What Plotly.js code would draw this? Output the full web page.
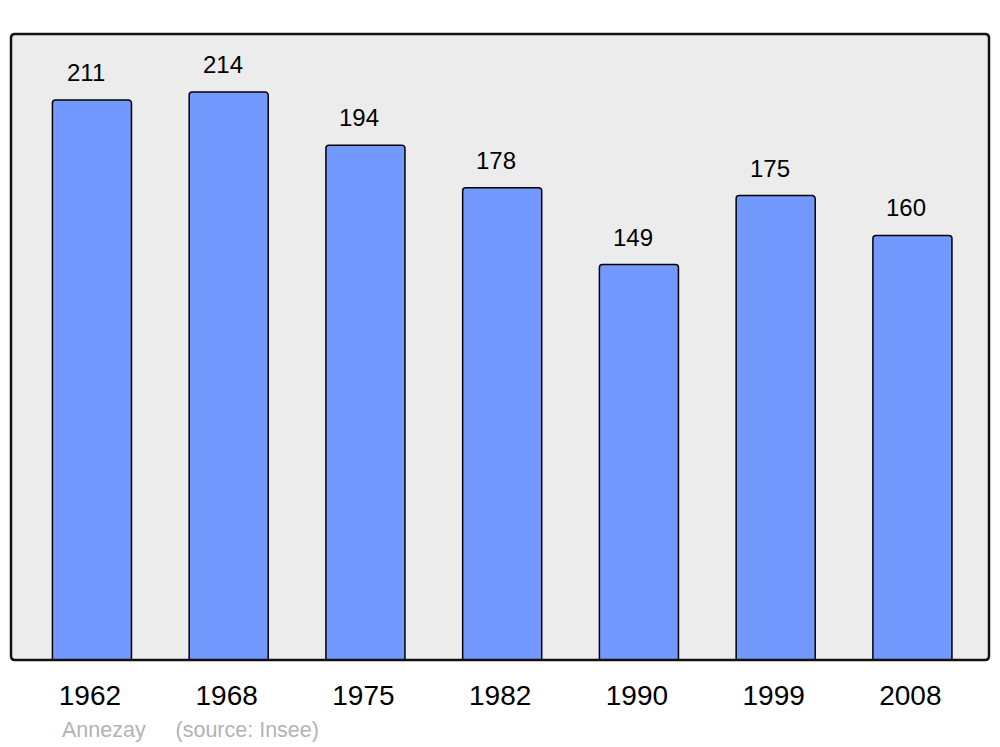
<!DOCTYPE html>
<html>
<head>
<meta charset="utf-8">
<script src="https://cdn.plot.ly/plotly-3.0.1.min.js"></script>
<style>html,body{margin:0;padding:0;background:#fff;}#chart{width:1000px;height:747px;}</style>
</head>
<body>
<div id="chart"></div>
<script>
const years = ["1962", "1968", "1975", "1982", "1990", "1999", "2008"];
const population = [211, 214, 194, 178, 149, 175, 160];
const footerText = "Annezay     (source: Insee)";

const rx = 4 / 978, ry = 4 / 626;
const framePath = `M ${rx} 0 L ${1 - rx} 0 Q 1 0 1 ${ry} L 1 ${1 - ry} Q 1 1 ${1 - rx} 1 L ${rx} 1 Q 0 1 0 ${1 - ry} L 0 ${ry} Q 0 0 ${rx} 0 Z`;

const annotations = years.map((y, i) => ({
  x: i, y: population[i], xref: 'x', yref: 'y',
  text: String(population[i]), showarrow: false,
  yanchor: 'bottom', yshift: 12, xshift: -6,
  font: {family: 'Liberation Sans, Arial, sans-serif', size: 24, color: '#000'}
}));
annotations.push({
  xref: 'paper', yref: 'paper', x: 49 / 978, y: -(730 - 660) / 626,
  xanchor: 'left', yanchor: 'middle', text: footerText.replace(/ /g, '&nbsp;'), showarrow: false,
  font: {family: 'Liberation Sans, Arial, sans-serif', size: 21.5, color: '#b3b3b3'}
});

const trace = {
  type: 'bar',
  x: years.map((_, i) => i),
  y: population,
  width: 0.578,
  marker: {color: '#7399ff', line: {color: '#000', width: 1.5}, cornerradius: 3},
  hoverinfo: 'none'
};

const layout = {
  width: 1000, height: 747,
  margin: {l: 11, r: 11, t: 34, b: 87, pad: 0},
  paper_bgcolor: '#ffffff',
  plot_bgcolor: 'rgba(0,0,0,0)',
  showlegend: false,
  xaxis: {
    range: [-0.592, 6.56], tickmode: 'array', tickvals: years.map((_, i) => i - 0.015), ticktext: years,
    showgrid: false, zeroline: false, showline: false, ticks: '',
    ticklabelstandoff: 16,
    tickfont: {family: 'Liberation Sans, Arial, sans-serif', size: 28, color: '#000'}
  },
  yaxis: {
    range: [0, 235.9], showgrid: false, zeroline: false, showline: false,
    showticklabels: false, ticks: ''
  },
  shapes: [
    {type: 'path', xref: 'paper', yref: 'paper', path: framePath, fillcolor: '#ececec', line: {width: 0}, layer: 'below'},
    {type: 'path', xref: 'paper', yref: 'paper', path: framePath, fillcolor: 'rgba(0,0,0,0)', line: {color: '#111', width: 2.5}, layer: 'above'}
  ],
  annotations: annotations
};

Plotly.newPlot('chart', [trace], layout, {staticPlot: true});
</script>
</body>
</html>
